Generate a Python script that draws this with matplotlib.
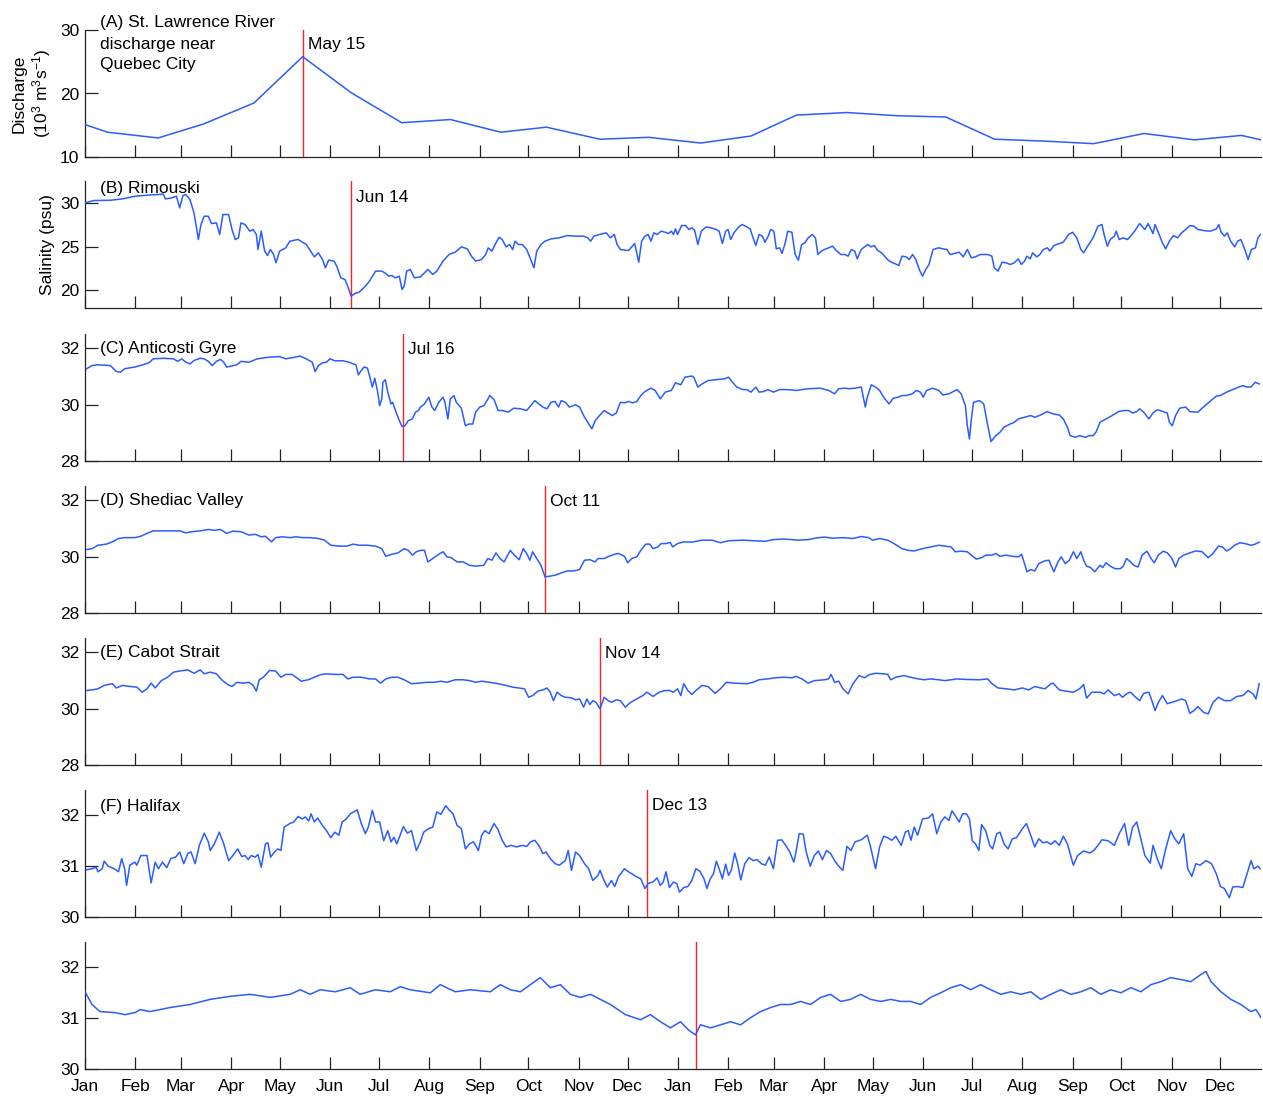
import matplotlib
matplotlib.use("Agg")
import matplotlib.pyplot as plt
import numpy as np

plt.rcParams['font.family'] = ['Liberation Sans', 'DejaVu Sans']
plt.rcParams['mathtext.fontset'] = 'custom'
plt.rcParams['mathtext.rm'] = 'Liberation Sans'
plt.rcParams['mathtext.it'] = 'Liberation Sans:italic'

FS = 12.5
BLUE = '#2a5cff'
RED = '#ff1f1f'

# day 0 = Jan 1 of the first year, two years on the axis
month_start = [0, 31, 59, 90, 120, 151, 181, 212, 243, 273, 304, 334,
               365, 396, 424, 455, 485, 516, 546, 577, 608, 638, 669, 699]
month_names = ['Jan', 'Feb', 'Mar', 'Apr', 'May', 'Jun',
               'Jul', 'Aug', 'Sep', 'Oct', 'Nov', 'Dec'] * 2

# (A) monthly river discharge, 10^3 m3/s
discharge_day = [0, 14, 45, 73, 104, 134, 164, 195, 225, 256, 284, 317, 347,
                 379, 410, 438, 469, 500, 530, 560, 591, 621, 652, 683, 712, 724]
discharge_val = [15.1, 13.9, 13.0, 15.2, 18.5, 25.8, 20.1, 15.4, 15.9, 13.9, 14.7, 12.8, 13.1,
                 12.2, 13.3, 16.6, 17.0, 16.5, 16.3, 12.8, 12.5, 12.1, 13.7, 12.7, 13.4, 12.7]

# (B) Rimouski salinity
rimouski_day = [0, 5.5, 15.6, 23.1, 30.7, 40.7, 48.2, 49.5, 53.3, 56.3, 58.3, 60.3, 62.1, 64.6,
                67.1, 68.3, 69.8, 71.4, 73.4, 75.9, 77.9, 80.9, 82.9, 84.9, 88.4, 90.5, 92.5, 94.5,
                96.0, 98.5, 101.5, 103.5, 105.5, 106.5, 108.5, 110.6, 112.3, 114.1, 116.1, 117.6,
                119.8, 123.6, 126.1, 131.2, 136.2, 141.2, 143.7, 146.2, 148.0, 150.0, 153.3, 155.0,
                157.5, 160.1, 162.1, 163.8, 166.3, 168.8, 172.6, 175.1, 178.9, 182.7, 185.2, 186.9,
                188.9, 191.0, 193.5, 195.2, 196.5, 198.0, 200.3, 202.8, 206.5, 209.0, 211.1, 214.1,
                216.6, 220.4, 224.1, 227.9, 231.7, 235.4, 237.9, 240.5, 244.2, 246.7, 248.2, 250.5,
                253.0, 255.0, 256.8, 259.3, 261.3, 263.3, 264.8, 266.8, 269.3, 271.9, 274.4, 276.4,
                278.1, 280.7, 283.2, 286.9, 291.9, 297.0, 302.0, 307.0, 309.5, 311.3, 313.3, 316.6,
                320.9, 323.4, 325.9, 327.6, 329.6, 334.6, 338.4, 340.9, 342.7, 344.7, 346.7, 348.4,
                350.2, 352.2, 354.7, 357.2, 359.3, 361.0, 362.3, 363.5, 364.8, 367.3, 369.8, 371.8,
                373.6, 375.3, 377.3, 379.4, 382.4, 385.4, 388.7, 390.4, 392.4, 394.4, 395.9, 397.5,
                399.5, 402.5, 404.5, 407.5, 409.5, 411.3, 413.0, 415.0, 417.1, 418.6, 420.6, 422.1,
                424.1, 425.6, 427.6, 429.1, 431.1, 432.6, 435.2, 437.2, 439.2, 441.2, 443.2, 445.2,
                447.7, 449.7, 451.2, 453.2, 455.3, 457.8, 460.3, 462.3, 465.3, 467.8, 469.8, 471.8,
                473.9, 475.4, 477.9, 479.9, 481.9, 483.9, 485.9, 487.9, 490.4, 494.5, 496.5, 498.5,
                501.0, 503.0, 505.5, 507.5, 509.5, 511.5, 513.6, 515.6, 517.6, 519.6, 522.1, 525.6,
                528.1, 530.6, 532.6, 535.2, 538.2, 540.7, 543.2, 545.7, 548.2, 551.2, 555.8, 558.3,
                559.8, 562.1, 564.6, 567.1, 569.6, 572.1, 574.6, 576.4, 578.4, 579.9, 581.9, 583.4,
                585.9, 587.9, 590.0, 592.5, 594.0, 596.5, 599.8, 602.3, 605.5, 608.0, 610.6, 613.1,
                614.8, 617.3, 620.6, 623.6, 626.1, 627.4, 629.4, 631.2, 633.7, 634.9, 636.7, 639.2,
                641.7, 643.7, 646.2, 649.3, 652.5, 654.5, 656.3, 657.5, 658.8, 661.3, 663.3, 665.3,
                667.6, 670.1, 672.6, 675.1, 677.6, 680.2, 682.7, 685.2, 688.9, 692.7, 696.5, 698.0,
                699.5, 701.5, 703.3, 705.3, 707.8, 709.6, 711.6, 713.6, 716.1, 718.1, 720.6, 722.1,
                723.6]
rimouski_sal = [30.0, 30.27, 30.30, 30.46, 30.76, 30.91, 31.0, 30.46, 30.57, 30.76, 29.43, 30.84,
                30.95, 30.38, 28.86, 27.53, 25.82, 27.53, 28.48, 28.48, 27.64, 27.72, 26.39, 28.67,
                28.67, 26.96, 25.82, 26.01, 27.72, 27.53, 26.77, 26.96, 26.39, 24.68, 26.77, 24.49,
                23.99, 24.68, 24.11, 23.16, 24.49, 24.87, 25.63, 25.82, 25.25, 23.84, 24.30, 23.54,
                22.59, 23.46, 23.35, 22.78, 21.44, 21.25, 20.30, 19.35, 19.66, 19.81, 20.49, 21.06,
                22.21, 22.21, 21.94, 21.63, 21.71, 21.44, 21.63, 20.11, 20.49, 22.21, 22.40, 21.44,
                21.56, 22.02, 22.40, 21.83, 22.21, 23.35, 24.11, 24.37, 24.98, 24.75, 23.92, 23.35,
                23.54, 24.11, 24.87, 24.49, 25.44, 26.08, 25.82, 24.98, 25.25, 24.68, 25.63, 25.25,
                25.25, 24.68, 23.54, 22.59, 24.49, 25.25, 25.63, 25.89, 26.01, 26.27, 26.20, 26.20,
                26.01, 25.63, 26.20, 26.39, 26.58, 26.01, 26.39, 25.25, 24.68, 24.56, 25.36, 23.23,
                25.63, 26.20, 26.39, 25.63, 26.58, 26.39, 26.77, 26.65, 26.50, 26.77, 26.39, 27.03,
                26.39, 27.41, 27.41, 26.96, 27.15, 26.88, 25.25, 26.77, 27.26, 27.15, 26.96, 26.77,
                25.36, 26.77, 26.96, 25.82, 26.58, 27.26, 27.53, 27.26, 27.03, 26.01, 25.13, 26.39,
                26.20, 25.51, 26.20, 26.96, 26.77, 24.75, 24.87, 24.22, 25.44, 26.77, 26.65, 24.11,
                23.46, 25.25, 25.44, 26.01, 26.39, 26.01, 24.11, 24.49, 24.68, 24.87, 25.06, 24.60,
                24.11, 24.11, 23.92, 24.68, 24.49, 23.61, 24.68, 24.98, 25.25, 24.98, 25.13, 24.60,
                24.30, 23.46, 23.23, 23.08, 22.85, 23.92, 23.84, 23.54, 24.11, 23.54, 22.40, 21.63,
                22.40, 22.97, 24.68, 24.87, 24.75, 24.68, 24.11, 24.22, 24.37, 23.84, 24.68, 23.73,
                23.84, 24.11, 24.11, 23.92, 22.59, 22.21, 23.23, 23.16, 22.97, 23.16, 23.61, 22.97,
                23.35, 23.92, 23.61, 24.30, 23.84, 24.11, 24.68, 24.87, 24.49, 25.13, 25.36, 25.51,
                26.39, 26.65, 26.01, 24.68, 24.30, 25.06, 26.01, 27.34, 27.53, 26.39, 25.06, 25.82,
                26.20, 26.77, 25.82, 26.01, 25.82, 26.20, 26.77, 27.64, 26.96, 27.64, 26.96, 26.50,
                27.53, 26.39, 25.44, 24.75, 25.63, 26.27, 26.01, 26.58, 26.96, 27.41, 27.34, 26.96,
                26.84, 26.77, 27.03, 27.53, 26.65, 26.20, 26.58, 25.63, 24.98, 25.63, 25.82, 24.87,
                23.54, 24.68, 24.87, 26.01, 26.39]

# (C) Anticosti Gyre salinity
anticosti_day = [1.0, 4.3, 8.0, 15.6, 19.3, 21.9, 24.4, 30.7, 35.7, 39.4, 42.0, 48.2, 54.5, 57.0,
                 59.5, 62.1, 64.6, 67.1, 70.9, 73.4, 75.9, 78.4, 80.9, 83.4, 85.4, 87.2, 89.7, 93.5,
                 96.0, 101.0, 106.0, 113.6, 119.8, 123.6, 128.6, 132.4, 136.2, 139.9, 141.7, 143.7,
                 146.2, 148.7, 150.8, 153.8, 158.8, 162.6, 165.1, 166.8, 168.3, 170.1, 171.9, 173.9,
                 175.1, 176.9, 178.4, 180.2, 181.4, 182.7, 183.4, 184.9, 186.4, 188.4, 189.4, 191.5,
                 193.5, 195.2, 197.0, 199.0, 201.5, 203.5, 205.3, 206.5, 209.0, 211.6, 213.6, 215.3,
                 217.8, 220.4, 221.6, 223.4, 224.9, 227.1, 228.6, 231.7, 234.2, 236.2, 238.7, 240.5,
                 243.0, 245.5, 247.5, 249.2, 251.8, 254.3, 256.8, 260.6, 263.8, 268.1, 271.9, 274.4,
                 276.9, 279.4, 281.9, 284.4, 286.9, 289.4, 291.5, 293.2, 295.7, 298.2, 302.0, 304.5,
                 307.0, 309.5, 312.1, 314.1, 315.8, 319.6, 322.1, 324.6, 327.1, 329.6, 332.1, 334.6,
                 337.1, 339.7, 342.2, 344.7, 348.4, 351.0, 354.2, 357.2, 361.0, 363.5, 366.8, 369.3,
                 373.6, 374.8, 377.3, 379.9, 383.6, 389.9, 393.7, 396.2, 398.7, 401.2, 405.0, 407.5,
                 410.0, 413.0, 415.0, 417.6, 420.6, 423.8, 427.6, 432.6, 437.7, 445.2, 452.7, 457.8,
                 461.5, 464.0, 467.8, 470.3, 474.1, 477.9, 480.4, 481.6, 484.1, 486.7, 489.2, 491.7,
                 495.0, 497.5, 500.5, 503.0, 505.5, 509.3, 511.8, 514.3, 516.1, 518.1, 521.8, 525.6,
                 528.1, 531.9, 536.9, 539.4, 542.0, 543.2, 544.5, 545.7, 547.0, 550.7, 553.3, 555.8,
                 557.8, 560.8, 563.3, 565.8, 569.6, 572.1, 574.6, 578.4, 582.2, 584.7, 588.4, 592.2,
                 596.0, 599.8, 602.3, 604.8, 606.5, 609.8, 612.3, 616.1, 618.1, 620.6, 622.4, 624.9,
                 628.6, 632.4, 636.2, 640.0, 642.5, 645.0, 647.5, 649.3, 651.8, 655.0, 657.5, 660.1,
                 663.8, 666.3, 667.6, 669.4, 671.4, 673.9, 677.6, 680.2, 685.2, 687.7, 691.5, 694.0,
                 696.5, 699.0, 702.8, 706.6, 710.3, 712.8, 715.4, 717.9, 720.4, 722.9]
anticosti_sal = [31.27, 31.38, 31.41, 31.38, 31.17, 31.15, 31.27, 31.33, 31.41, 31.48, 31.62, 31.64,
                 31.62, 31.53, 31.62, 31.50, 31.44, 31.56, 31.64, 31.62, 31.53, 31.38, 31.53, 31.60,
                 31.50, 31.33, 31.36, 31.41, 31.53, 31.50, 31.62, 31.68, 31.70, 31.62, 31.67, 31.72,
                 31.62, 31.50, 31.17, 31.38, 31.48, 31.50, 31.62, 31.55, 31.55, 31.50, 31.44, 31.41,
                 31.05, 31.21, 31.33, 31.29, 31.03, 30.62, 30.93, 30.44, 29.96, 30.20, 30.79, 30.88,
                 30.44, 30.02, 30.08, 29.73, 29.43, 29.22, 29.25, 29.43, 29.49, 29.73, 29.79, 29.91,
                 30.02, 30.26, 29.91, 29.79, 30.08, 30.26, 30.08, 29.49, 30.20, 30.32, 30.08, 29.87,
                 29.25, 29.31, 29.31, 29.73, 29.91, 29.96, 30.14, 30.32, 30.18, 29.79, 29.79, 29.73,
                 29.87, 29.85, 29.79, 29.96, 30.14, 30.02, 29.91, 29.85, 30.08, 30.11, 29.91, 30.14,
                 30.08, 29.91, 29.99, 29.91, 29.61, 29.37, 29.14, 29.43, 29.55, 29.79, 29.70, 29.61,
                 29.70, 30.08, 30.06, 30.11, 30.06, 30.11, 30.32, 30.46, 30.58, 30.50, 30.20, 30.44,
                 30.50, 30.77, 30.70, 30.97, 31.01, 30.97, 30.62, 30.73, 30.85, 30.89, 30.91, 30.97,
                 30.79, 30.62, 30.53, 30.53, 30.44, 30.62, 30.44, 30.46, 30.53, 30.44, 30.53, 30.53,
                 30.50, 30.56, 30.58, 30.50, 30.38, 30.56, 30.58, 30.56, 30.58, 30.62, 29.91, 30.26,
                 30.70, 30.62, 30.50, 30.26, 30.02, 30.22, 30.26, 30.32, 30.32, 30.38, 30.50, 30.44,
                 30.26, 30.50, 30.58, 30.50, 30.34, 30.38, 30.53, 30.38, 29.96, 29.25, 28.78, 29.49,
                 30.08, 30.14, 30.02, 29.25, 28.69, 28.90, 29.02, 29.20, 29.31, 29.37, 29.49, 29.55,
                 29.61, 29.55, 29.63, 29.75, 29.67, 29.63, 29.49, 29.20, 28.90, 28.84, 28.90, 28.84,
                 28.90, 28.90, 29.02, 29.37, 29.49, 29.61, 29.75, 29.79, 29.79, 29.70, 29.75, 29.85,
                 29.73, 29.49, 29.70, 29.82, 29.75, 29.70, 29.37, 29.25, 29.61, 29.87, 29.91, 29.75,
                 29.73, 29.87, 30.06, 30.18, 30.30, 30.32, 30.44, 30.53, 30.62, 30.67, 30.62, 30.62,
                 30.79, 30.73]

# (D) Shediac Valley salinity
shediac_day = [1.0, 4.3, 8.0, 13.1, 16.8, 20.6, 24.4, 30.7, 34.4, 38.2, 42.0, 48.2, 58.3, 62.1,
               65.8, 70.9, 75.9, 79.6, 83.4, 87.2, 91.0, 96.0, 101.0, 104.8, 108.5, 111.1, 114.8,
               117.3, 121.1, 126.1, 129.9, 133.7, 138.7, 143.7, 147.5, 151.3, 156.3, 161.3, 165.1,
               168.8, 173.9, 178.9, 182.7, 185.2, 188.9, 192.7, 196.5, 199.0, 201.5, 204.0, 206.5,
               209.0, 211.1, 214.1, 217.8, 220.4, 222.9, 225.4, 229.1, 232.9, 236.7, 240.5, 245.5,
               248.0, 250.5, 253.0, 255.5, 258.0, 261.8, 264.3, 267.3, 269.8, 271.9, 273.9, 275.6,
               278.1, 280.7, 283.2, 285.7, 289.4, 293.2, 297.0, 300.8, 304.5, 307.5, 310.8, 314.1,
               315.8, 319.6, 322.6, 325.9, 328.4, 332.1, 334.1, 336.6, 339.7, 342.2, 345.2, 347.7,
               349.7, 352.7, 354.7, 357.7, 360.3, 361.8, 364.8, 368.6, 373.6, 379.9, 386.1, 391.2,
               396.2, 405.0, 412.5, 418.8, 423.8, 430.1, 435.2, 438.9, 445.2, 450.2, 455.3, 460.3,
               466.6, 472.8, 477.9, 482.4, 484.9, 489.2, 494.2, 498.0, 503.0, 506.8, 510.5, 515.6,
               520.6, 525.6, 529.4, 533.2, 535.7, 539.4, 543.2, 545.7, 548.7, 552.0, 554.5, 558.3,
               560.8, 563.3, 567.1, 570.9, 574.6, 576.6, 578.4, 579.9, 582.2, 584.7, 587.2, 591.0,
               593.5, 594.7, 596.5, 599.0, 601.0, 603.5, 606.0, 608.5, 610.6, 613.1, 614.8, 616.6,
               619.1, 621.6, 624.9, 626.6, 628.6, 631.2, 634.2, 637.4, 639.2, 641.2, 643.7, 645.7,
               648.3, 650.8, 653.8, 656.3, 658.3, 660.8, 663.8, 666.3, 668.9, 671.4, 673.4, 676.4,
               680.2, 683.9, 687.7, 691.5, 694.0, 697.8, 700.3, 702.8, 705.3, 707.8, 711.1, 714.1,
               717.9, 720.4, 722.9]
shediac_sal = [30.25, 30.28, 30.40, 30.44, 30.52, 30.64, 30.67, 30.67, 30.72, 30.82, 30.91, 30.91,
               30.91, 30.84, 30.88, 30.91, 30.96, 30.93, 30.96, 30.82, 30.90, 30.88, 30.76, 30.79,
               30.70, 30.72, 30.52, 30.67, 30.70, 30.67, 30.70, 30.67, 30.67, 30.64, 30.58, 30.40,
               30.37, 30.37, 30.44, 30.40, 30.40, 30.37, 30.28, 30.01, 30.08, 30.13, 30.28, 30.22,
               30.05, 30.17, 30.22, 30.22, 29.81, 29.93, 30.08, 30.17, 29.99, 29.96, 29.81, 29.81,
               29.69, 29.66, 29.69, 29.93, 29.87, 30.13, 29.93, 29.81, 30.22, 30.05, 29.89, 30.28,
               30.11, 29.87, 30.17, 29.93, 29.69, 29.28, 29.30, 29.34, 29.42, 29.49, 29.49, 29.54,
               29.87, 29.89, 29.81, 29.93, 29.93, 30.01, 30.08, 30.11, 30.01, 29.78, 29.93, 29.99,
               30.22, 30.44, 30.44, 30.28, 30.34, 30.46, 30.46, 30.50, 30.34, 30.46, 30.52, 30.51,
               30.58, 30.58, 30.49, 30.56, 30.58, 30.56, 30.54, 30.60, 30.62, 30.60, 30.58, 30.60,
               30.66, 30.69, 30.65, 30.67, 30.64, 30.71, 30.67, 30.58, 30.64, 30.58, 30.46, 30.28,
               30.22, 30.20, 30.28, 30.34, 30.40, 30.37, 30.34, 30.17, 30.19, 30.17, 30.05, 29.91,
               29.96, 30.05, 30.05, 30.11, 30.01, 30.05, 30.01, 29.99, 30.08, 29.75, 29.46, 29.54,
               29.49, 29.75, 29.85, 29.87, 29.69, 29.46, 29.81, 29.99, 29.75, 29.87, 30.17, 29.93,
               30.17, 29.87, 29.66, 29.61, 29.46, 29.69, 29.61, 29.78, 29.66, 29.57, 29.57, 29.66,
               29.93, 29.81, 29.69, 29.63, 30.05, 30.19, 29.93, 29.78, 30.05, 30.19, 30.13, 29.96,
               29.63, 29.93, 30.05, 30.13, 30.20, 30.17, 29.96, 30.08, 30.37, 30.34, 30.20, 30.28,
               30.40, 30.49, 30.46, 30.40, 30.44, 30.51]

# (E) Cabot Strait salinity
cabot_day = [1.0, 4.3, 8.0, 11.8, 16.8, 19.3, 23.1, 28.1, 31.9, 35.2, 38.2, 40.7, 43.2, 47.0,
             50.8, 54.5, 58.3, 63.3, 67.1, 70.9, 73.4, 77.1, 80.9, 84.7, 87.9, 90.5, 93.5, 97.2,
             101.0, 103.5, 105.5, 107.3, 109.8, 113.6, 117.3, 120.6, 123.6, 127.4, 129.9, 133.2,
             137.4, 141.2, 145.0, 148.7, 153.8, 158.8, 161.8, 165.1, 170.1, 175.1, 178.9, 181.9,
             185.2, 188.9, 192.7, 196.5, 201.0, 205.3, 210.3, 215.3, 219.1, 222.9, 227.9, 232.9,
             236.7, 240.5, 244.2, 249.2, 254.3, 259.3, 263.1, 266.8, 270.6, 273.1, 275.6, 278.9,
             281.9, 284.4, 286.4, 288.4, 290.7, 293.2, 295.7, 299.5, 302.0, 304.5, 307.0, 309.0,
             310.8, 312.6, 314.6, 317.1, 319.6, 322.1, 324.1, 327.1, 329.6, 332.6, 335.9, 339.7,
             343.4, 345.9, 349.7, 353.5, 357.2, 359.8, 362.3, 364.8, 366.8, 368.6, 371.1, 373.6,
             376.1, 379.9, 383.6, 387.9, 391.2, 394.9, 400.0, 407.5, 411.3, 415.0, 420.1, 425.1,
             430.1, 435.2, 437.7, 441.4, 445.2, 449.0, 455.3, 457.8, 459.3, 461.5, 464.0, 466.6,
             469.8, 472.8, 476.6, 479.9, 482.9, 486.7, 491.7, 494.2, 496.0, 499.2, 504.3, 508.0,
             513.1, 516.8, 520.6, 525.6, 529.4, 533.2, 536.9, 543.2, 550.7, 555.8, 558.3, 562.1,
             567.1, 572.1, 577.1, 580.9, 584.7, 588.4, 591.0, 594.7, 596.0, 599.8, 603.5, 608.5,
             612.3, 614.8, 616.6, 619.9, 624.9, 627.4, 629.9, 633.7, 636.7, 638.7, 641.7, 643.7,
             646.8, 649.3, 651.8, 655.0, 656.8, 658.8, 660.8, 663.3, 666.3, 668.9, 671.4, 675.1,
             677.6, 680.2, 682.7, 685.2, 688.5, 691.5, 694.5, 697.8, 701.5, 705.3, 709.1, 712.8,
             716.1, 719.1, 720.9, 722.9]
cabot_sal = [30.64, 30.66, 30.70, 30.82, 30.88, 30.73, 30.82, 30.78, 30.76, 30.58, 30.70, 30.90,
             30.73, 30.99, 31.11, 31.29, 31.33, 31.37, 31.25, 31.37, 31.23, 31.29, 31.23, 30.99,
             30.85, 30.78, 30.93, 30.90, 30.93, 30.82, 30.62, 31.02, 31.11, 31.35, 31.33, 31.11,
             31.21, 31.21, 31.11, 30.97, 31.02, 31.11, 31.20, 31.23, 31.21, 31.21, 31.05, 31.11,
             31.11, 31.05, 31.05, 30.90, 31.05, 31.11, 31.11, 31.02, 30.88, 30.90, 30.93, 30.93,
             30.97, 30.93, 31.02, 31.02, 30.99, 30.93, 30.97, 30.93, 30.88, 30.82, 30.76, 30.73,
             30.70, 30.40, 30.46, 30.62, 30.66, 30.73, 30.58, 30.28, 30.58, 30.46, 30.40, 30.38,
             30.31, 30.34, 30.05, 30.34, 30.14, 30.28, 30.22, 29.99, 30.40, 30.28, 30.22, 30.31,
             30.28, 30.05, 30.22, 30.34, 30.46, 30.58, 30.43, 30.58, 30.64, 30.64, 30.58, 30.70,
             30.46, 30.88, 30.64, 30.50, 30.64, 30.82, 30.78, 30.54, 30.70, 30.93, 30.90, 30.88,
             30.93, 31.02, 31.05, 31.09, 31.11, 31.09, 31.14, 31.05, 30.90, 30.99, 31.02, 31.05,
             31.21, 30.93, 30.97, 30.70, 30.52, 30.88, 31.17, 31.09, 31.20, 31.25, 31.23, 31.21,
             31.02, 31.11, 31.17, 31.11, 31.05, 31.02, 31.05, 31.02, 30.99, 31.02, 31.05, 31.03,
             31.02, 31.05, 30.88, 30.73, 30.70, 30.66, 30.73, 30.66, 30.78, 30.73, 30.70, 30.88,
             30.90, 30.66, 30.62, 30.58, 30.70, 30.85, 30.37, 30.58, 30.58, 30.52, 30.66, 30.46,
             30.52, 30.40, 30.54, 30.58, 30.40, 30.28, 30.54, 30.58, 30.28, 29.93, 30.22, 30.46,
             30.17, 30.22, 30.26, 30.34, 30.28, 29.83, 29.93, 30.07, 29.87, 29.81, 30.22, 30.40,
             30.28, 30.28, 30.43, 30.46, 30.64, 30.52, 30.34, 30.88]

# (F) Halifax salinity
halifax_day = [1.0, 4.3, 6.8, 8.0, 10.6, 11.8, 14.3, 18.1, 20.6, 22.6, 24.4, 25.6, 27.6, 30.7,
               31.9, 34.4, 38.2, 40.7, 43.2, 45.2, 47.7, 50.3, 52.8, 55.8, 58.3, 60.8, 63.3, 65.3,
               67.8, 70.4, 73.4, 75.9, 77.1, 79.6, 82.7, 85.4, 88.4, 91.0, 94.0, 96.5, 98.5, 100.5,
               102.3, 104.8, 106.5, 108.5, 111.1, 112.6, 114.3, 116.6, 118.6, 120.6, 122.6, 126.1,
               128.6, 131.2, 133.7, 135.7, 137.7, 139.2, 141.2, 143.2, 146.2, 148.7, 151.3, 153.8,
               156.3, 158.3, 160.8, 163.3, 167.6, 170.1, 172.6, 174.4, 176.9, 178.9, 181.4, 183.9,
               186.4, 188.4, 190.2, 192.0, 194.0, 196.0, 198.5, 201.0, 204.0, 206.5, 208.5, 211.6,
               214.1, 216.6, 219.1, 222.1, 224.1, 226.6, 229.1, 231.7, 234.2, 236.7, 239.2, 242.2,
               244.2, 246.2, 248.7, 251.8, 254.3, 256.8, 259.3, 262.3, 265.6, 269.3, 271.9, 274.4,
               276.9, 279.4, 281.9, 283.9, 286.4, 289.4, 292.0, 295.7, 297.5, 299.5, 302.0, 304.5,
               307.5, 310.1, 312.6, 315.8, 317.1, 319.1, 321.6, 324.1, 326.1, 328.4, 332.1, 334.6,
               337.1, 339.7, 342.2, 344.7, 346.7, 349.7, 352.2, 354.2, 356.0, 357.7, 359.8, 362.3,
               364.3, 366.0, 368.6, 371.1, 373.6, 376.1, 378.6, 381.1, 382.9, 384.9, 386.9, 388.7,
               390.7, 392.4, 394.4, 396.2, 397.9, 400.0, 402.0, 403.7, 406.2, 408.8, 411.3, 413.8,
               416.3, 418.8, 421.3, 423.8, 426.4, 428.9, 431.4, 433.9, 436.4, 437.7, 439.7, 442.2,
               444.0, 446.5, 449.0, 451.5, 454.0, 456.5, 459.0, 461.5, 464.0, 466.6, 469.1, 471.6,
               474.1, 477.9, 481.6, 483.4, 486.7, 489.2, 491.7, 494.2, 496.7, 499.2, 502.5, 505.0,
               506.8, 508.5, 510.5, 512.6, 515.6, 519.3, 521.8, 524.4, 526.9, 529.4, 531.9, 533.7,
               535.7, 538.2, 540.2, 542.7, 544.5, 546.2, 548.2, 550.3, 552.0, 554.5, 557.0, 558.8,
               561.3, 563.3, 565.8, 568.3, 570.9, 573.4, 577.1, 579.6, 582.2, 584.7, 587.2, 589.7,
               592.2, 594.7, 597.2, 599.8, 602.3, 604.8, 608.5, 611.1, 614.8, 618.6, 621.1, 623.6,
               626.1, 629.9, 633.7, 636.7, 640.0, 642.5, 645.0, 647.5, 650.0, 652.5, 655.8, 657.5,
               660.1, 662.6, 665.1, 668.4, 670.9, 673.4, 676.4, 678.9, 681.4, 683.9, 686.5, 690.2,
               693.5, 696.5, 699.0, 701.5, 704.5, 706.6, 709.6, 712.8, 715.4, 717.9, 719.6, 722.1,
               723.6]
halifax_sal = [30.93, 30.95, 30.98, 30.89, 30.95, 31.10, 31.00, 30.95, 30.89, 31.15, 30.95, 30.62,
               31.02, 31.08, 31.02, 31.21, 31.21, 30.67, 31.08, 30.95, 31.08, 30.97, 31.15, 31.18,
               31.28, 31.05, 31.25, 31.28, 31.05, 31.41, 31.65, 31.48, 31.31, 31.44, 31.67, 31.44,
               31.11, 31.21, 31.34, 31.19, 31.21, 31.13, 31.21, 31.18, 31.23, 30.98, 31.44, 31.46,
               31.18, 31.28, 31.34, 31.31, 31.77, 31.84, 31.87, 31.98, 31.93, 31.97, 31.89, 32.03,
               31.87, 31.95, 31.80, 31.70, 31.56, 31.67, 31.61, 31.87, 31.93, 32.03, 32.11, 31.84,
               31.64, 31.77, 32.10, 31.87, 31.87, 31.50, 31.70, 31.48, 31.57, 31.44, 31.61, 31.78,
               31.65, 31.70, 31.31, 31.48, 31.67, 31.74, 31.77, 32.07, 32.02, 32.19, 32.11, 32.03,
               31.80, 31.74, 31.34, 31.44, 31.48, 31.31, 31.61, 31.70, 31.64, 31.84, 31.72, 31.51,
               31.38, 31.41, 31.38, 31.41, 31.39, 31.48, 31.51, 31.41, 31.25, 31.28, 31.15, 31.05,
               31.02, 31.11, 31.31, 30.92, 31.28, 31.21, 31.05, 30.95, 30.72, 30.82, 30.92, 30.75,
               30.59, 30.72, 30.60, 30.79, 30.95, 30.89, 30.84, 30.79, 30.75, 30.56, 30.66, 30.69,
               30.77, 30.62, 30.69, 30.89, 30.58, 30.69, 30.66, 30.49, 30.58, 30.60, 30.72, 30.95,
               30.90, 30.75, 30.56, 30.75, 30.85, 31.10, 30.92, 30.75, 31.04, 30.82, 30.92, 31.26,
               31.02, 30.73, 31.05, 31.17, 31.11, 31.13, 31.05, 31.02, 31.18, 30.95, 31.51, 31.52,
               31.41, 31.28, 31.08, 31.28, 31.64, 31.63, 31.28, 31.00, 31.21, 31.30, 31.13, 31.31,
               31.25, 31.11, 31.00, 30.92, 31.39, 31.31, 31.48, 31.52, 31.61, 31.41, 30.95, 31.38,
               31.59, 31.56, 31.51, 31.59, 31.41, 31.67, 31.70, 31.51, 31.77, 31.61, 31.93, 31.95,
               32.03, 31.64, 31.87, 31.97, 31.90, 32.09, 32.00, 31.87, 32.03, 32.03, 31.93, 31.50,
               31.44, 31.31, 31.82, 31.70, 31.41, 31.34, 31.64, 31.67, 31.44, 31.34, 31.54, 31.56,
               31.74, 31.84, 31.61, 31.38, 31.54, 31.46, 31.48, 31.43, 31.50, 31.41, 31.59, 31.44,
               31.02, 31.21, 31.30, 31.26, 31.31, 31.41, 31.52, 31.50, 31.41, 31.64, 31.84, 31.41,
               31.77, 31.87, 31.54, 31.21, 31.06, 31.41, 31.15, 30.95, 31.31, 31.70, 31.54, 31.44,
               31.64, 30.95, 30.80, 31.05, 31.02, 31.11, 31.05, 30.85, 30.60, 30.56, 30.38, 30.59,
               30.60, 30.58, 30.85, 31.11, 30.95, 31.00, 30.95]

# (G) bottom panel salinity
bottom_day = [0, 4.3, 9.2, 18.5, 24.6, 30.8, 33.9, 40.0, 52.4, 64.7, 77.0, 89.3, 101.7, 114.0,
              126.3, 132.5, 138.6, 144.8, 154.0, 163.3, 169.4, 178.7, 187.9, 194.1, 200.2, 212.6,
              218.7, 228.0, 237.2, 249.5, 255.7, 261.9, 268.0, 274.2, 280.3, 286.5, 292.7, 298.8,
              305.0, 311.2, 317.3, 323.5, 332.7, 342.0, 348.1, 354.3, 360.4, 366.6, 371.5, 375.8,
              378.9, 385.1, 391.3, 397.4, 403.6, 409.7, 415.9, 422.1, 428.2, 434.4, 440.5, 446.7,
              452.9, 459.0, 465.2, 471.3, 477.5, 483.7, 489.8, 496.0, 502.2, 508.3, 514.5, 520.6,
              526.8, 533.0, 539.1, 545.3, 551.4, 557.6, 563.8, 569.9, 576.1, 582.3, 588.4, 594.6,
              600.7, 606.9, 613.1, 619.2, 625.4, 631.5, 637.7, 643.9, 650.0, 656.2, 662.4, 668.5,
              674.7, 680.8, 687.0, 690.1, 693.2, 699.3, 705.5, 711.6, 717.8, 720.9, 724.0]
bottom_sal = [31.52, 31.27, 31.13, 31.11, 31.07, 31.11, 31.17, 31.13, 31.21, 31.27, 31.37, 31.43,
              31.47, 31.41, 31.47, 31.56, 31.47, 31.56, 31.52, 31.60, 31.47, 31.56, 31.52, 31.62,
              31.56, 31.50, 31.66, 31.52, 31.56, 31.52, 31.66, 31.56, 31.52, 31.66, 31.80, 31.60,
              31.66, 31.47, 31.41, 31.47, 31.37, 31.27, 31.07, 30.97, 31.07, 30.93, 30.81, 30.93,
              30.77, 30.67, 30.87, 30.81, 30.87, 30.93, 30.87, 31.01, 31.13, 31.21, 31.27, 31.27,
              31.33, 31.27, 31.41, 31.47, 31.33, 31.37, 31.47, 31.37, 31.33, 31.37, 31.33, 31.33,
              31.27, 31.41, 31.50, 31.60, 31.66, 31.56, 31.66, 31.56, 31.47, 31.52, 31.47, 31.52,
              31.37, 31.47, 31.56, 31.47, 31.52, 31.60, 31.47, 31.56, 31.50, 31.60, 31.52, 31.66,
              31.72, 31.80, 31.76, 31.72, 31.86, 31.92, 31.72, 31.52, 31.37, 31.27, 31.13, 31.17,
              31.01]

# salinity panels: (day, salinity, ylim, yticks, label, label offset px, marker day, marker text)
panels = [
    (rimouski_day, rimouski_sal, (18, 32.5), [20, 25, 30], '(B) Rimouski', 7, 164, 'Jun 14'),
    (anticosti_day, anticosti_sal, (28, 32.5), [28, 30, 32], '(C) Anticosti Gyre', 15, 196, 'Jul 16'),
    (shediac_day, shediac_sal, (28, 32.5), [28, 30, 32], '(D) Shediac Valley', 15, 283, 'Oct 11'),
    (cabot_day, cabot_sal, (28, 32.5), [28, 30, 32], '(E) Cabot Strait', 15, 317, 'Nov 14'),
    (halifax_day, halifax_sal, (30, 32.5), [30, 31, 32], '(F) Halifax', 16, 346, 'Dec 13'),
    (bottom_day, bottom_sal, (30, 32.5), [30, 31, 32], None, 0, 376, None),
]

W, H = 1263, 1096
fig = plt.figure(figsize=(W / 100, H / 100), dpi=100)

PX = 0.72  # points per pixel at 100 dpi


def make_axes(top_px):
    ax = fig.add_axes([85 / W, (H - top_px - 127) / H, 1176 / W, 127 / H])
    for s in ['top', 'right']:
        ax.spines[s].set_visible(False)
    for s in ['left', 'bottom']:
        ax.spines[s].set_linewidth(0.9)
        ax.spines[s].set_color('#222222')
    ax.set_xlim(0, 724)
    ax.set_xticks(month_start)
    ax.tick_params(axis='both', direction='in', length=9, width=0.9,
                   labelsize=FS, color='#222222')
    ax.tick_params(axis='y', pad=4)
    ax.tick_params(axis='x', pad=7)
    ax.set_xticklabels([])
    return ax


def panel_label(ax, text, dy_px):
    ax.annotate(text, xy=(0, 1), xycoords='axes fraction',
                xytext=(15 * PX, -dy_px * PX), textcoords='offset points',
                ha='left', va='center', fontsize=FS, linespacing=1.5)


def marker(ax, day, text, dy_px):
    ax.axvline(day, color=RED, lw=1.0, zorder=3)
    if text:
        ax.annotate(text, xy=(day, 1), xycoords=ax.get_xaxis_transform(),
                    xytext=(5 * PX, -dy_px * PX), textcoords='offset points',
                    ha='left', va='center', fontsize=FS)


tops = [30, 181, 334, 486, 638, 790, 942]

# discharge panel
ax = make_axes(tops[0])
ax.plot(discharge_day, discharge_val, color=BLUE, lw=1.1, zorder=4)
ax.set_ylim(10, 30)
ax.set_yticks([10, 20, 30])
ax.set_ylabel('Discharge\n(10$^3$ m$^3$s$^{-1}$)', fontsize=FS, labelpad=5)
panel_label(ax, '(A) St. Lawrence River\ndischarge near\nQuebec City', 14)
marker(ax, 134, 'May 15', 15)

for i, (d, s, ylim, yt, lab, lab_dy, mday, mtext) in enumerate(panels):
    ax = make_axes(tops[i + 1])
    ax.plot(d, s, color=BLUE, lw=1.1, zorder=4)
    ax.set_ylim(*ylim)
    ax.set_yticks(yt)
    if lab:
        panel_label(ax, lab, lab_dy)
    marker(ax, mday, mtext, 16)
    if i == 0:
        ax.set_ylabel('Salinity (psu)', fontsize=FS, labelpad=4)

ax.set_xticklabels(month_names)

fig.savefig('out.png', dpi=100)
